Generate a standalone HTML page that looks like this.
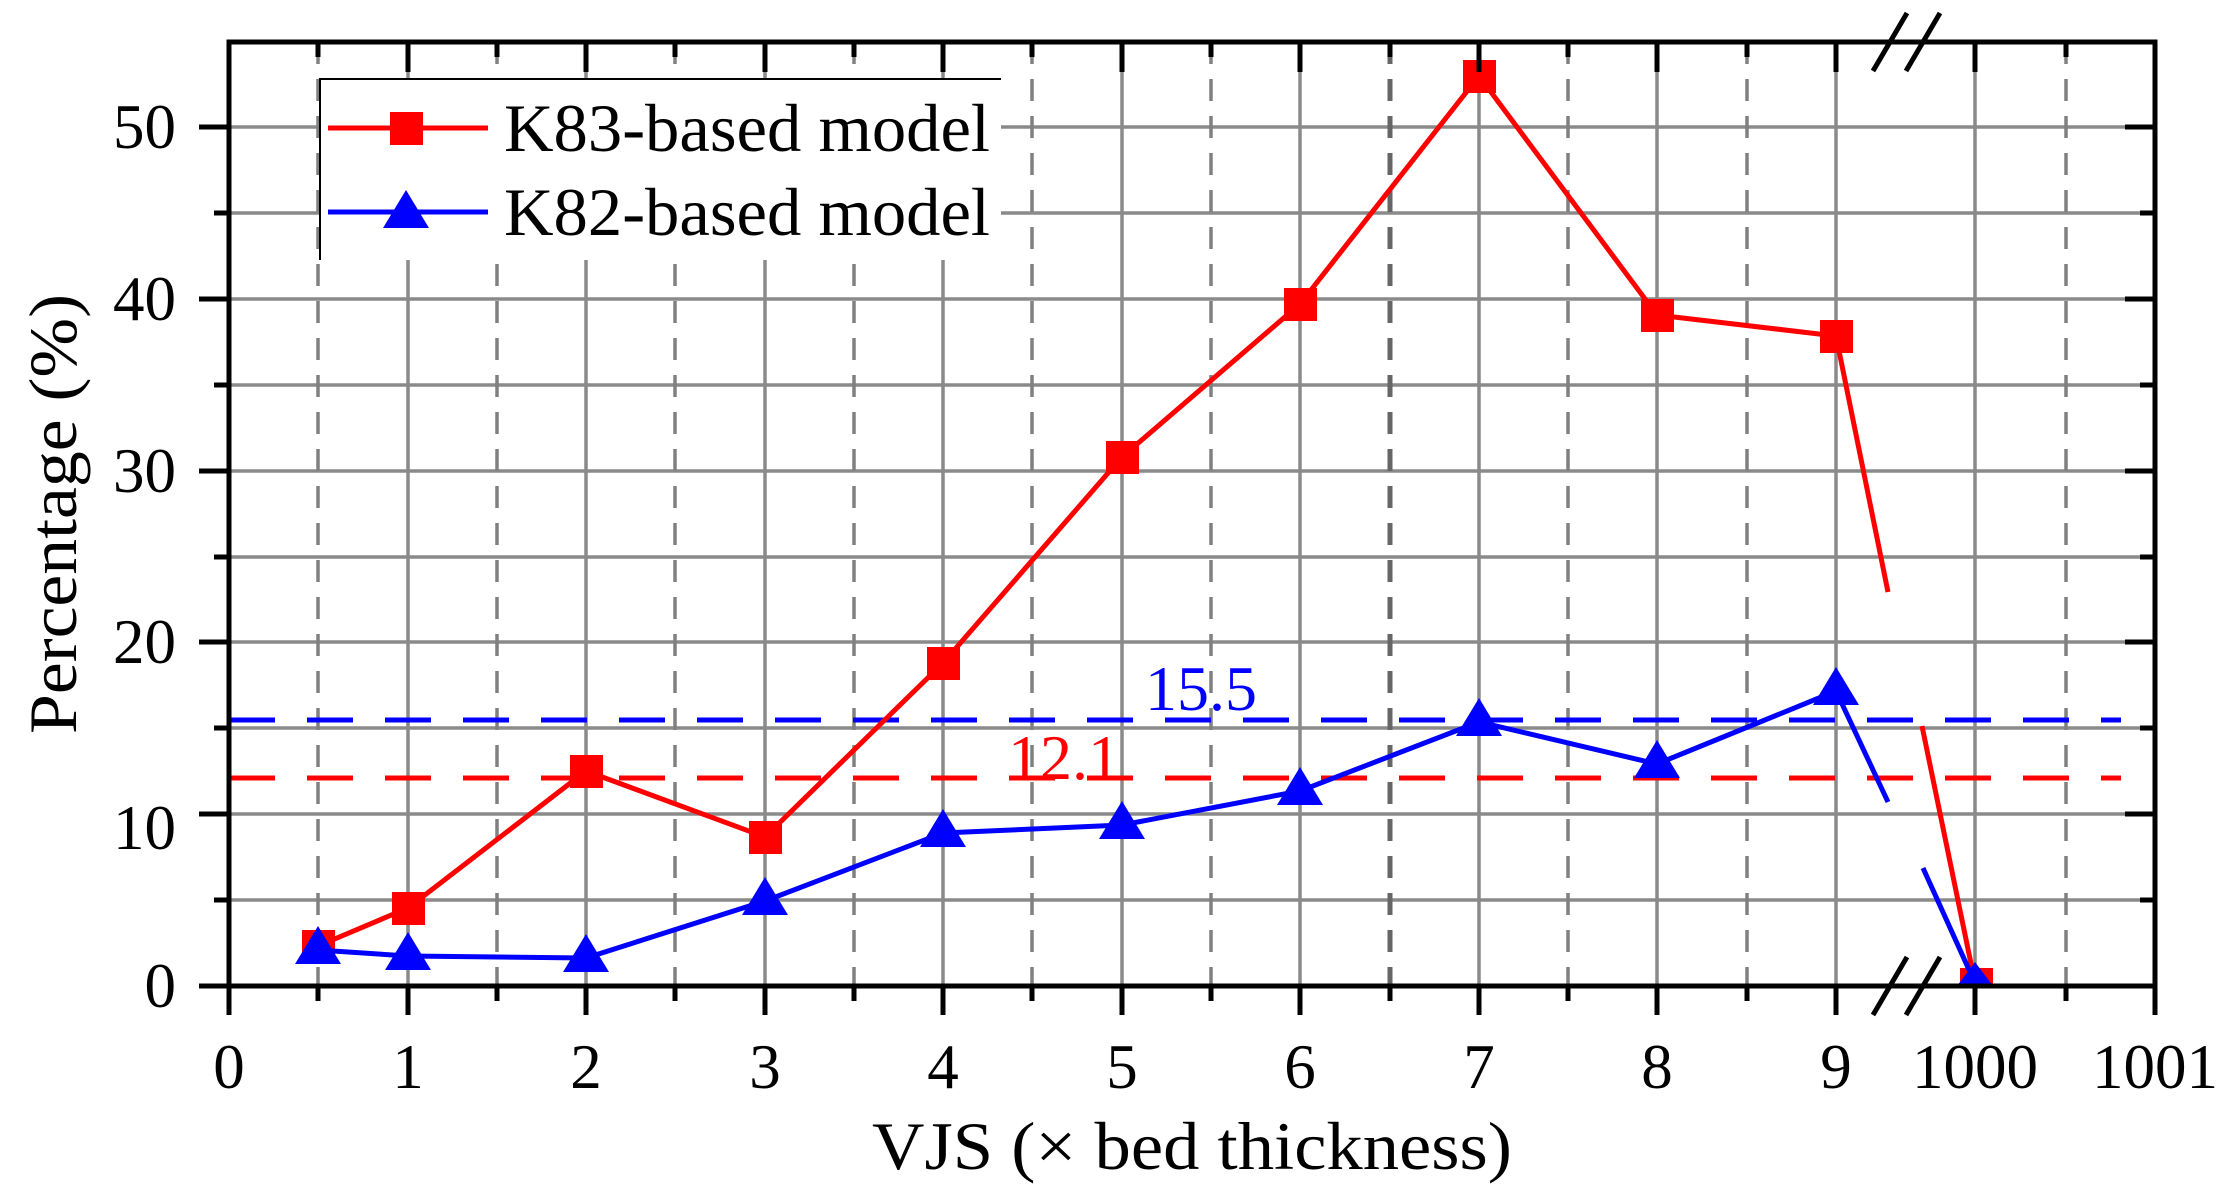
<!DOCTYPE html>
<html><head><meta charset="utf-8"><style>
html,body{margin:0;padding:0;background:#fff;}
svg{display:block;}
text{font-family:"Liberation Serif",serif;fill:#000;}
</style></head><body>
<svg width="2234" height="1198" viewBox="0 0 2234 1198" xmlns="http://www.w3.org/2000/svg">
<g stroke="#8a8a8a" stroke-width="3.5">
<line x1="229" y1="900" x2="2155" y2="900"/>
<line x1="229" y1="814" x2="2155" y2="814"/>
<line x1="229" y1="728" x2="2155" y2="728"/>
<line x1="229" y1="642" x2="2155" y2="642"/>
<line x1="229" y1="557" x2="2155" y2="557"/>
<line x1="229" y1="471" x2="2155" y2="471"/>
<line x1="229" y1="385" x2="2155" y2="385"/>
<line x1="229" y1="299" x2="2155" y2="299"/>
<line x1="229" y1="213" x2="2155" y2="213"/>
<line x1="229" y1="127" x2="2155" y2="127"/>
</g>
<g stroke="#8a8a8a" stroke-width="3.5">
<line x1="408" y1="42" x2="408" y2="986"/>
<line x1="586" y1="42" x2="586" y2="986"/>
<line x1="765" y1="42" x2="765" y2="986"/>
<line x1="943" y1="42" x2="943" y2="986"/>
<line x1="1122" y1="42" x2="1122" y2="986"/>
<line x1="1300" y1="42" x2="1300" y2="986"/>
<line x1="1479" y1="42" x2="1479" y2="986"/>
<line x1="1657" y1="42" x2="1657" y2="986"/>
<line x1="1836" y1="42" x2="1836" y2="986"/>
<line x1="1975" y1="42" x2="1975" y2="986"/>
</g>
<g stroke="#808080" stroke-width="3.5" stroke-dasharray="22 15">
<line x1="318" y1="42" x2="318" y2="986"/>
<line x1="497" y1="42" x2="497" y2="986"/>
<line x1="675" y1="42" x2="675" y2="986"/>
<line x1="854" y1="42" x2="854" y2="986"/>
<line x1="1032" y1="42" x2="1032" y2="986"/>
<line x1="1211" y1="42" x2="1211" y2="986"/>
<line x1="1568" y1="42" x2="1568" y2="986"/>
<line x1="1747" y1="42" x2="1747" y2="986"/>
<line x1="2066" y1="42" x2="2066" y2="986"/>
</g>
<line x1="1390" y1="42" x2="1390" y2="986" stroke="#666" stroke-width="5" stroke-dasharray="22 15"/>
<rect x="319" y="79" width="682" height="181" fill="#fff"/>
<line x1="319" y1="79" x2="1001" y2="79" stroke="#000" stroke-width="2"/>
<line x1="320" y1="79" x2="320" y2="260" stroke="#000" stroke-width="2"/>
<line x1="328" y1="128" x2="488" y2="128" stroke="#f00" stroke-width="5"/>
<rect x="390" y="112" width="33" height="33" fill="#f00"/>
<line x1="328" y1="212" x2="488" y2="212" stroke="#00f" stroke-width="5"/>
<polygon points="406,190 429,228 383,228" fill="#00f"/>
<text x="504" y="151" font-size="68" textLength="486" lengthAdjust="spacingAndGlyphs">K83-based model</text>
<text x="504" y="235" font-size="68" textLength="486" lengthAdjust="spacingAndGlyphs">K82-based model</text>
<line x1="229" y1="720" x2="2121" y2="720" stroke="#00f" stroke-width="5" stroke-dasharray="46 32"/>
<line x1="229" y1="778" x2="2121" y2="778" stroke="#f00" stroke-width="5" stroke-dasharray="46 32"/>
<text x="1145" y="710" font-size="64" style="fill:#00f">15.5</text>
<text x="1008" y="779" font-size="64" style="fill:#f00">12.1</text>
<polyline fill="none" stroke="#f00" stroke-width="5" points="318,946 408,908 586,771 765,837 943,663 1122,457 1300,304 1479,76 1657,315 1836,336 1888,592"/>
<line x1="1922" y1="726" x2="1975" y2="983" stroke="#f00" stroke-width="5"/>
<g fill="#f00">
<rect x="302" y="930" width="33" height="33"/>
<rect x="392" y="892" width="33" height="33"/>
<rect x="570" y="755" width="33" height="33"/>
<rect x="749" y="821" width="33" height="33"/>
<rect x="927" y="647" width="33" height="33"/>
<rect x="1106" y="441" width="33" height="33"/>
<rect x="1284" y="288" width="33" height="33"/>
<rect x="1463" y="60" width="33" height="33"/>
<rect x="1641" y="299" width="33" height="33"/>
<rect x="1820" y="320" width="33" height="33"/>
<rect x="1960" y="968" width="33" height="18"/>
</g>
<polyline fill="none" stroke="#00f" stroke-width="5" points="318,950 408,956 586,958 765,901 943,833 1122,825 1300,791 1479,722 1657,764 1836,691 1888,802"/>
<line x1="1923" y1="868" x2="1975" y2="983" stroke="#00f" stroke-width="5"/>
<g fill="#00f">
<polygon points="318,926 341,964 295,964"/>
<polygon points="408,932 431,970 385,970"/>
<polygon points="586,934 609,972 563,972"/>
<polygon points="765,877 788,915 742,915"/>
<polygon points="943,809 966,847 920,847"/>
<polygon points="1122,801 1145,839 1099,839"/>
<polygon points="1300,767 1323,805 1277,805"/>
<polygon points="1479,698 1502,736 1456,736"/>
<polygon points="1657,740 1680,778 1634,778"/>
<polygon points="1836,667 1859,705 1813,705"/>
<polygon points="1975,962 1993,986 1957,986"/>
</g>
<rect x="229" y="42" width="1926" height="944" fill="none" stroke="#000" stroke-width="5"/>
<g stroke="#000" stroke-width="5">
<line x1="199" y1="986" x2="229" y2="986"/><line x1="214" y1="900" x2="229" y2="900"/>
<line x1="199" y1="814" x2="229" y2="814"/><line x1="214" y1="728" x2="229" y2="728"/>
<line x1="199" y1="642" x2="229" y2="642"/><line x1="214" y1="557" x2="229" y2="557"/>
<line x1="199" y1="471" x2="229" y2="471"/><line x1="214" y1="385" x2="229" y2="385"/>
<line x1="199" y1="299" x2="229" y2="299"/><line x1="214" y1="213" x2="229" y2="213"/>
<line x1="199" y1="127" x2="229" y2="127"/>
<line x1="2125" y1="814" x2="2155" y2="814"/><line x1="2140" y1="900" x2="2155" y2="900"/>
<line x1="2125" y1="642" x2="2155" y2="642"/><line x1="2140" y1="728" x2="2155" y2="728"/>
<line x1="2125" y1="471" x2="2155" y2="471"/><line x1="2140" y1="557" x2="2155" y2="557"/>
<line x1="2125" y1="299" x2="2155" y2="299"/><line x1="2140" y1="385" x2="2155" y2="385"/>
<line x1="2125" y1="127" x2="2155" y2="127"/><line x1="2140" y1="213" x2="2155" y2="213"/>
</g>
<g stroke="#000" stroke-width="5">
<line x1="229" y1="986" x2="229" y2="1015"/><line x1="408" y1="986" x2="408" y2="1015"/>
<line x1="586" y1="986" x2="586" y2="1015"/><line x1="765" y1="986" x2="765" y2="1015"/>
<line x1="943" y1="986" x2="943" y2="1015"/><line x1="1122" y1="986" x2="1122" y2="1015"/>
<line x1="1300" y1="986" x2="1300" y2="1015"/><line x1="1479" y1="986" x2="1479" y2="1015"/>
<line x1="1657" y1="986" x2="1657" y2="1015"/><line x1="1836" y1="986" x2="1836" y2="1015"/>
<line x1="1975" y1="986" x2="1975" y2="1015"/><line x1="2155" y1="986" x2="2155" y2="1015"/>
<line x1="318" y1="986" x2="318" y2="1001"/><line x1="497" y1="986" x2="497" y2="1001"/>
<line x1="675" y1="986" x2="675" y2="1001"/><line x1="854" y1="986" x2="854" y2="1001"/>
<line x1="1032" y1="986" x2="1032" y2="1001"/><line x1="1211" y1="986" x2="1211" y2="1001"/>
<line x1="1390" y1="986" x2="1390" y2="1001"/><line x1="1568" y1="986" x2="1568" y2="1001"/>
<line x1="1747" y1="986" x2="1747" y2="1001"/><line x1="2066" y1="986" x2="2066" y2="1001"/>
<line x1="408" y1="42" x2="408" y2="72"/><line x1="586" y1="42" x2="586" y2="72"/>
<line x1="765" y1="42" x2="765" y2="72"/><line x1="943" y1="42" x2="943" y2="72"/>
<line x1="1122" y1="42" x2="1122" y2="72"/><line x1="1300" y1="42" x2="1300" y2="72"/>
<line x1="1479" y1="42" x2="1479" y2="72"/><line x1="1657" y1="42" x2="1657" y2="72"/>
<line x1="1836" y1="42" x2="1836" y2="72"/><line x1="1975" y1="42" x2="1975" y2="72"/>
<line x1="318" y1="42" x2="318" y2="57"/><line x1="497" y1="42" x2="497" y2="57"/>
<line x1="675" y1="42" x2="675" y2="57"/><line x1="854" y1="42" x2="854" y2="57"/>
<line x1="1032" y1="42" x2="1032" y2="57"/><line x1="1211" y1="42" x2="1211" y2="57"/>
<line x1="1390" y1="42" x2="1390" y2="57"/><line x1="1568" y1="42" x2="1568" y2="57"/>
<line x1="1747" y1="42" x2="1747" y2="57"/><line x1="2066" y1="42" x2="2066" y2="57"/>
</g>
<g stroke="#000" stroke-width="5">
<line x1="1873" y1="71" x2="1907" y2="13"/><line x1="1906" y1="71" x2="1940" y2="13"/>
<line x1="1873" y1="1015" x2="1907" y2="957"/><line x1="1906" y1="1015" x2="1940" y2="957"/>
</g>
<g font-size="63" text-anchor="end">
<text x="176" y="1007">0</text>
<text x="176" y="849">10</text>
<text x="176" y="663">20</text>
<text x="176" y="492">30</text>
<text x="176" y="320">40</text>
<text x="176" y="148">50</text>
</g>
<g font-size="63" text-anchor="middle">
<text x="229" y="1088">0</text>
<text x="408" y="1088">1</text>
<text x="586" y="1088">2</text>
<text x="765" y="1088">3</text>
<text x="943" y="1088">4</text>
<text x="1122" y="1088">5</text>
<text x="1300" y="1088">6</text>
<text x="1479" y="1088">7</text>
<text x="1657" y="1088">8</text>
<text x="1836" y="1088">9</text>
<text x="1975" y="1088">1000</text>
<text x="2155" y="1088">1001</text>
</g>
<text x="1192" y="1169" font-size="68" text-anchor="middle" textLength="640" lengthAdjust="spacingAndGlyphs">VJS (× bed thickness)</text>
<text transform="translate(76,514) rotate(-90)" font-size="68" text-anchor="middle" textLength="440" lengthAdjust="spacingAndGlyphs">Percentage (%)</text>
</svg>
</body></html>
